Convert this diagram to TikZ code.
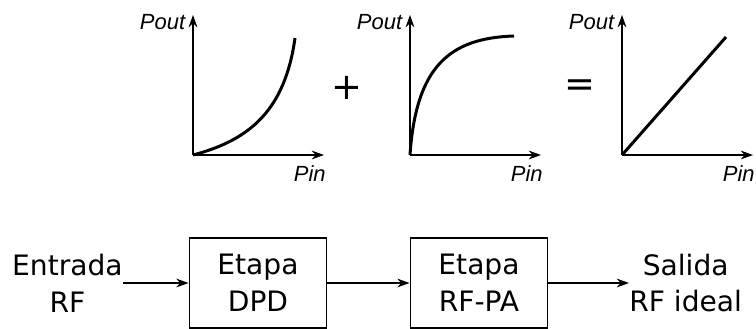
\documentclass[tikz,border=0pt]{standalone}
\usepackage{fontspec}
\setmainfont{DejaVu Sans}
\newfontfamily\ejesfont{Liberation Sans}
\usetikzlibrary{arrows.meta,positioning}

\tikzset{
    flecha/.style={-{Stealth[length=7pt,width=5pt]}, line width=0.8pt},
    curva/.style={line width=1.7pt},
    bloque/.style={draw, line width=1.1pt, minimum width=2.74cm, minimum height=1.8cm,
        align=center, font=\fontsize{16}{21}\selectfont},
    texto/.style={align=center, inner sep=0pt, font=\fontsize{16}{21}\selectfont},
    etiq/.style={inner sep=0pt, font=\ejesfont\itshape\fontsize{12.5}{14}\selectfont},
    signo/.style={font=\fontsize{21}{24}\selectfont}
}

\begin{document}
\begin{tikzpicture}[x=0.02cm, y=-0.02cm]
    \useasboundingbox (0,0) rectangle (756,328);

    % ejes de las tres curvas
    \foreach \x/\n in {193/ga, 410/gb, 622/gc} {
        \coordinate (\n) at (\x,155);
        \draw[flecha] (\n) -- ++(131,0) coordinate (\n x);
        \draw[flecha] (\n) -- ++(0,-140) coordinate (\n y);
        \node[etiq, below left=0.2cm and -0.04cm of \n x] (\n in) {Pin};
        \node[etiq, left=0.15cm of \n y, yshift=-0.15cm] (\n out) {Pout};
    }

    % expansiva, compresiva y lineal
    \draw[curva] (ga) .. controls (250,140) and (285,110) .. (295,38);
    \draw[curva] (gb) .. controls (416,66) and (450,38) .. (514,36);
    \draw[curva] (gc) -- (726,37);

    \node[signo] (mas) at (347,88) {+};
    \node[signo] (igual) at (580,88) {=};

    % cadena de bloques
    \node[bloque] (dpd) at (258,283) {Etapa\\DPD};
    \node[bloque] (rfpa) at (479,283) {Etapa\\RF-PA};
    \node[texto, anchor=east] (entrada) at (123,283) {Entrada\\RF};
    \node[texto, anchor=west] (salida) at (629,283) {Salida\\RF ideal};

    \draw[flecha] (entrada) -- (dpd);
    \draw[flecha] (dpd) -- (rfpa);
    \draw[flecha] (rfpa) -- (salida);
\end{tikzpicture}
\end{document}
